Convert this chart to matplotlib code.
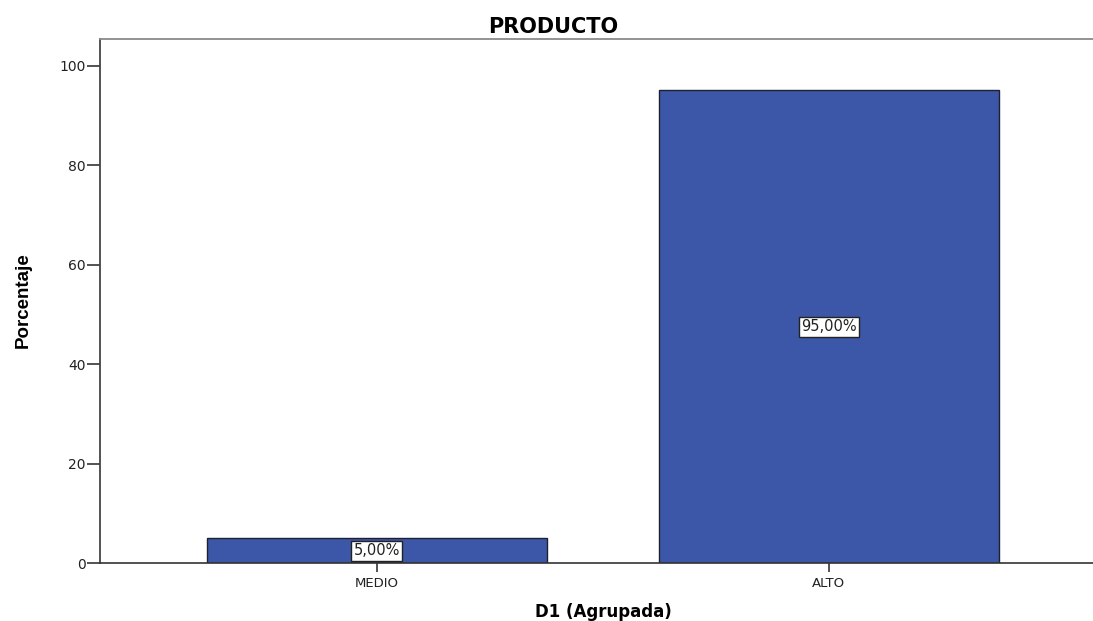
import numpy as np
import matplotlib
matplotlib.use("Agg")
import matplotlib.pyplot as plt

# datos del grafico
categorias = ["MEDIO", "ALTO"]
porcentajes = [5.0, 95.0]
etiquetas = ["5,00%", "95,00%"]
yticks = [0, 20, 40, 60, 80, 100]

plt.rcParams['font.family'] = ['DejaVu Sans']

fig = plt.figure(figsize=(10.93, 6.21), dpi=100)
ax = fig.add_axes([0.0915, 0.0929, 0.9085, 0.8448])

x = np.arange(len(categorias))
ax.bar(x, porcentajes, width=0.752, color='#3C57A8', edgecolor='#1f1f2f', linewidth=1.0, zorder=2)

# etiquetas de valor en el centro de cada barra
for xi, val, txt in zip(x, porcentajes, etiquetas):
    ax.text(xi, val / 2, txt, ha='center', va='center', fontsize=10.5, color='#222222', zorder=3,
            bbox=dict(boxstyle='square,pad=0.15', facecolor='white', edgecolor='#222222', linewidth=1.0))

ax.set_xlim(-0.612, 1.584)
ax.set_ylim(0, 105.4)
ax.set_xticks(x)
ax.set_xticklabels(categorias, fontsize=9.5, color='#222222')
ax.set_yticks(yticks)
ax.set_yticklabels([str(t) for t in yticks], fontsize=10, color='#222222')
ax.tick_params(axis='y', length=9.5, width=1.3, color='#444444', pad=1)
ax.tick_params(axis='x', length=6.3, width=1.3, color='#444444', pad=3.5)

ax.spines['right'].set_visible(False)
ax.spines['left'].set_color('#444444')
ax.spines['left'].set_linewidth(1.3)
ax.spines['bottom'].set_color('#333333')
ax.spines['bottom'].set_linewidth(1.2)
ax.spines['top'].set_color('#8a8a8a')
ax.spines['top'].set_linewidth(1.3)

fig.text(0.506, 0.947, "PRODUCTO", ha='center', va='baseline', fontsize=15, fontweight='bold')
fig.text(0.5517, 0.0064, "D1 (Agrupada)", ha='center', va='baseline', fontsize=12, fontweight='bold')
fig.text(0.021, 0.516, "Porcentaje", ha='center', va='center', rotation=90, fontsize=13.5,
         fontweight='bold', family=['Liberation Sans', 'DejaVu Sans'])

fig.savefig("out.png", dpi=100)
